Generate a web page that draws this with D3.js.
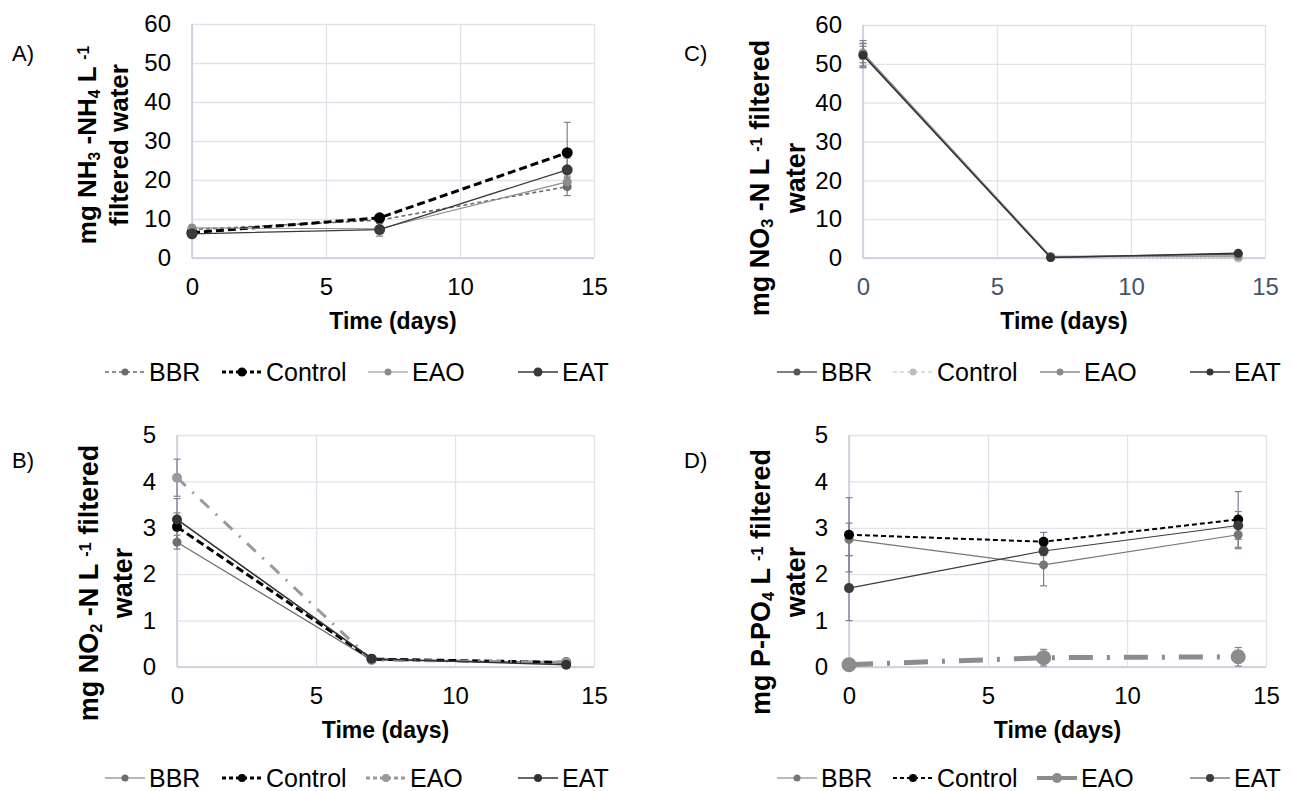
<!DOCTYPE html>
<html>
<head>
<meta charset="utf-8">
<script src="https://cdn.jsdelivr.net/npm/d3@7"></script>
<style>
  body { margin: 0; background: #fff; }
  svg { font-family: "Liberation Sans", Arial, sans-serif; }
</style>
</head>
<body>
<svg id="chart" width="1292" height="791"></svg>
<script>
// shared
const days = [0, 7, 14];
const seriesNames = ["BBR", "Control", "EAO", "EAT"];
const xTicks = [0, 5, 10, 15];
const yTicks60 = [0, 10, 20, 30, 40, 50, 60];
const yTicks5 = [0, 1, 2, 3, 4, 5];

// A) NH3-NH4
const nh4BBR = [7.3, 9.7, 18.3];
const nh4Control = [6.5, 10.3, 27.0];
const nh4EAO = [7.7, 7.5, 19.5];
const nh4EAT = [6.2, 7.3, 22.6];
const nh4BBRErr = [0.5, 0.8, 2.3];
const nh4ControlErr = [0.5, 0.6, 7.8];
const nh4EAOErr = [0.4, 0.4, 1.5];
const nh4EATErr = [0.4, 1.7, 3.0];

// B) NO2-N
const no2BBR = [2.69, 0.15, 0.1];
const no2Control = [3.02, 0.17, 0.1];
const no2EAO = [4.08, 0.15, 0.1];
const no2EAT = [3.18, 0.18, 0.05];
const no2BBRErr = [0.15, 0.02, 0.02];
const no2ControlErr = [0.3, 0.02, 0.02];
const no2EAOErr = [0.4, 0.02, 0.02];
const no2EATErr = [0.45, 0.03, 0.02];

// C) NO3-N
const no3BBR = [52.5, 0.2, 1.0];
const no3Control = [52.0, 0.3, 0.0];
const no3EAO = [52.8, 0.4, 0.5];
const no3EAT = [52.2, 0.1, 1.2];
const no3BBRErr = [3.5, 0.2, 0.3];
const no3ControlErr = [2.5, 0.2, 0.2];
const no3EAOErr = [2.5, 0.2, 0.2];
const no3EATErr = [3.0, 0.2, 0.3];

// D) P-PO4
const po4BBR = [2.75, 2.2, 2.85];
const po4Control = [2.85, 2.7, 3.18];
const po4EAO = [0.05, 0.2, 0.22];
const po4EAT = [1.7, 2.5, 3.05];
const po4BBRErr = [0.35, 0.45, 0.3];
const po4ControlErr = [0.8, 0.2, 0.6];
const po4EAOErr = [0.05, 0.18, 0.2];
const po4EATErr = [0.7, 0.1, 0.3];

const svg = d3.select("#chart");

const panels = [
  {
    label: "A)", labelXY: [12, 61],
    box: {l: 192, r: 594, t: 24, b: 258}, yMax: 60, yTicks: yTicks60,
    values: [nh4BBR, nh4Control, nh4EAO, nh4EAT],
    errs: [nh4BBRErr, nh4ControlErr, nh4EAOErr, nh4EATErr],
    styles: [
      {c: "#6b6b6b", w: 1.6, dash: "4,3", r: 4.5},
      {c: "#000", w: 3, dash: "8,4", r: 5.5},
      {c: "#8c8c8c", w: 1.2, dash: null, r: 4.5},
      {c: "#3a3a3a", w: 1.3, dash: null, r: 5.5}
    ],
    title: [["mg NH", ["sub", "3"], " -NH", ["sub", "4"], " L ", ["sup", "-1"]], ["filtered water"]],
    titleX: 96, titleY: 145, titleGap: 32, titleSize: 26,
    legendX: [105, 222, 368, 518], legendY: 372, xTickColor: "#000"
  },
  {
    label: "C)", labelXY: [684, 61],
    box: {l: 863, r: 1265, t: 25, b: 258}, yMax: 60, yTicks: yTicks60,
    values: [no3BBR, no3Control, no3EAO, no3EAT],
    errs: [no3BBRErr, no3ControlErr, no3EAOErr, no3EATErr],
    styles: [
      {c: "#555", w: 1.5, dash: null, r: 4.5},
      {c: "#bdbdbd", w: 1, dash: "2,2", r: 4.5},
      {c: "#8a8a8a", w: 1.5, dash: null, r: 4.5},
      {c: "#333", w: 1.5, dash: null, r: 4.5}
    ],
    title: [["mg NO", ["sub", "3"], " -N  L ", ["sup", "-1"], " filtered"], ["water"]],
    titleX: 769, titleY: 178, titleGap: 36, titleSize: 27,
    legendX: [777, 893, 1040, 1190], legendY: 372, xTickColor: "#44546a"
  },
  {
    label: "B)", labelXY: [12, 468],
    box: {l: 177, r: 594, t: 435, b: 667}, yMax: 5, yTicks: yTicks5,
    values: [no2BBR, no2Control, no2EAO, no2EAT],
    errs: [no2BBRErr, no2ControlErr, no2EAOErr, no2EATErr],
    styles: [
      {c: "#6e6e6e", w: 1.2, dash: null, r: 4.5},
      {c: "#000", w: 3, dash: "8,4", r: 5},
      {c: "#9a9a9a", w: 3, dash: "12,9,2,9", r: 5},
      {c: "#333", w: 1.5, dash: null, r: 5}
    ],
    title: [["mg NO", ["sub", "2"], " -N L ", ["sup", "-1"], " filtered"], ["water"]],
    titleX: 98, titleY: 583, titleGap: 34, titleSize: 27,
    legendX: [105, 222, 366, 518], legendY: 778, xTickColor: "#000"
  },
  {
    label: "D)", labelXY: [684, 468],
    box: {l: 849, r: 1266, t: 435, b: 667}, yMax: 5, yTicks: yTicks5,
    values: [po4BBR, po4Control, po4EAO, po4EAT],
    errs: [po4BBRErr, po4ControlErr, po4EAOErr, po4EATErr],
    styles: [
      {c: "#777", w: 1.2, dash: null, r: 4.5},
      {c: "#000", w: 2, dash: "5,3", r: 5},
      {c: "#8c8c8c", w: 5, dash: "24,14,3,14", r: 7.5},
      {c: "#3c3c3c", w: 1.2, dash: null, r: 5}
    ],
    title: [["mg P-PO", ["sub", "4"], " L ", ["sup", "-1"], " filtered"], ["water"]],
    titleX: 770, titleY: 582, titleGap: 35, titleSize: 27,
    legendX: [777, 893, 1037, 1190], legendY: 778, xTickColor: "#000"
  }
];

function addRich(textSel, parts, size) {
  parts.forEach(p => {
    if (typeof p === "string") {
      textSel.append("tspan").text(p);
    } else {
      textSel.append("tspan")
        .attr("baseline-shift", p[0] === "sub" ? "-25%" : "45%")
        .attr("font-size", size * 0.6)
        .text(p[1]);
    }
  });
}

function drawPanel(p) {
  const x = d3.scaleLinear().domain([0, 15]).range([p.box.l, p.box.r]);
  const y = d3.scaleLinear().domain([0, p.yMax]).range([p.box.b, p.box.t]);
  const g = svg.append("g");

  // gridlines
  g.append("g")
    .attr("transform", `translate(${p.box.l},0)`)
    .call(d3.axisLeft(y).tickValues(p.yTicks).tickSize(-(p.box.r - p.box.l)).tickFormat(""))
    .call(s => s.select(".domain").remove())
    .call(s => s.selectAll("line").attr("stroke", "#e0e2ec").attr("stroke-width", 1.3));
  g.append("g")
    .attr("transform", `translate(0,${p.box.b})`)
    .call(d3.axisBottom(x).tickValues(xTicks).tickSize(-(p.box.b - p.box.t)).tickFormat(""))
    .call(s => s.select(".domain").remove())
    .call(s => s.selectAll("line").attr("stroke", "#e0e2ec").attr("stroke-width", 1.3));
  // axis lines
  g.append("line").attr("x1", p.box.l).attr("x2", p.box.l).attr("y1", p.box.t).attr("y2", p.box.b)
    .attr("stroke", "#c9cddb").attr("stroke-width", 1.5);
  g.append("line").attr("x1", p.box.l).attr("x2", p.box.r).attr("y1", p.box.b).attr("y2", p.box.b)
    .attr("stroke", "#c9cddb").attr("stroke-width", 1.5);

  // tick labels
  g.append("g")
    .attr("transform", `translate(${p.box.l},0)`)
    .call(d3.axisLeft(y).tickValues(p.yTicks).tickSize(0).tickPadding(21).tickFormat(d3.format("d")))
    .call(s => s.select(".domain").remove())
    .call(s => s.selectAll("text").attr("font-size", 24).attr("fill", "#000")
      .attr("font-family", "Liberation Sans, Arial, sans-serif"));
  g.append("g")
    .attr("transform", `translate(0,${p.box.b})`)
    .call(d3.axisBottom(x).tickValues(xTicks).tickSize(0).tickPadding(20))
    .call(s => s.select(".domain").remove())
    .call(s => s.selectAll("text").attr("font-size", 24).attr("fill", p.xTickColor)
      .attr("font-family", "Liberation Sans, Arial, sans-serif"));

  // x title
  g.append("text")
    .attr("x", (p.box.l + p.box.r) / 2).attr("y", p.box.b + 71)
    .attr("text-anchor", "middle").attr("font-size", 23).attr("font-weight", "bold")
    .text("Time (days)");

  // y title, two lines
  p.title.forEach((line, i) => {
    const t = g.append("text")
      .attr("transform", `translate(${p.titleX + i * p.titleGap},${p.titleY}) rotate(-90)`)
      .attr("text-anchor", "middle").attr("font-size", p.titleSize).attr("font-weight", "bold");
    addRich(t, line, p.titleSize);
  });

  // panel label
  g.append("text").attr("x", p.labelXY[0]).attr("y", p.labelXY[1])
    .attr("font-size", 22).text(p.label);

  const line = d3.line().x(d => x(d.day)).y(d => y(d.v));

  // error bars
  seriesNames.forEach((name, si) => {
    const pts = days.map((d, i) => ({day: d, v: p.values[si][i], e: p.errs[si][i]}));
    const eb = g.append("g").attr("stroke", "#7d8193").attr("stroke-width", 1.2);
    pts.forEach(pt => {
      eb.append("line").attr("x1", x(pt.day)).attr("x2", x(pt.day))
        .attr("y1", y(pt.v - pt.e)).attr("y2", y(pt.v + pt.e));
      [pt.v - pt.e, pt.v + pt.e].forEach(v => {
        eb.append("line").attr("x1", x(pt.day) - 3.5).attr("x2", x(pt.day) + 3.5)
          .attr("y1", y(v)).attr("y2", y(v));
      });
    });
  });

  // lines and markers
  seriesNames.forEach((name, si) => {
    const st = p.styles[si];
    const pts = days.map((d, i) => ({day: d, v: p.values[si][i]}));
    g.append("path").datum(pts).attr("d", line)
      .attr("fill", "none").attr("stroke", st.c).attr("stroke-width", st.w)
      .attr("stroke-dasharray", st.dash);
    g.selectAll(null).data(pts).enter().append("circle")
      .attr("cx", d => x(d.day)).attr("cy", d => y(d.v)).attr("r", st.r)
      .attr("fill", st.c);
  });

  // legend
  seriesNames.forEach((name, si) => {
    const st = p.styles[si];
    const lg = g.append("g").attr("transform", `translate(${p.legendX[si]},${p.legendY})`);
    lg.append("line").attr("x1", 0).attr("x2", 40).attr("y1", 0).attr("y2", 0)
      .attr("stroke", st.c).attr("stroke-width", Math.min(st.w, 4))
      .attr("stroke-dasharray", st.dash && st.w <= 3 ? "4,3" : null);
    lg.append("circle").attr("cx", 20).attr("cy", 0).attr("r", Math.min(st.r - 1, 5)).attr("fill", st.c);
    lg.append("text").attr("x", 44).attr("y", 9).attr("font-size", 25).text(name);
  });
}

panels.forEach(drawPanel);
</script>
</body>
</html>
